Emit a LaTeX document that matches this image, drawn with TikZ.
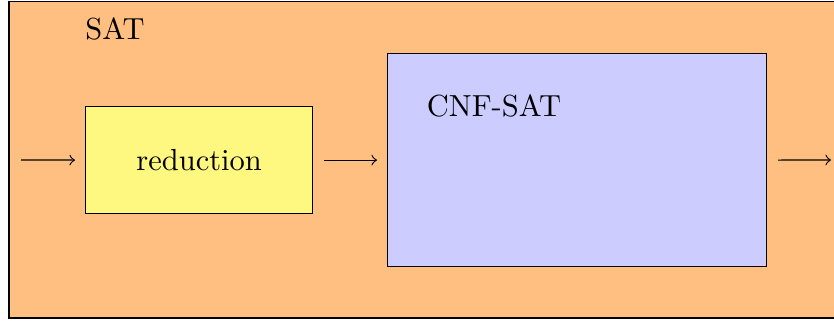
\documentclass[tikz,border=0pt]{standalone}
\begin{document}
\begin{tikzpicture}[x=0.328pt,y=-0.328pt,
  box/.style={draw=black, thin, inner sep=0pt, anchor=north west},
  lbl/.style={inner sep=0pt, font=\normalsize}]
\useasboundingbox (0,0) rectangle (834,320);
\fill[orange!50] (9,1.5) rectangle (850,318);
\draw[thin] (850,1.5) -- (9,1.5) -- (9,318) -- (850,318);
\node[box, fill=yellow!50, minimum width=227*0.328pt, minimum height=107*0.328pt] (red) at (85,106) {};
\node[box, fill=blue!20, minimum width=379*0.328pt, minimum height=213*0.328pt] (cnf) at (387,53) {};
\node[lbl] (sat) at (115,29) {SAT};
\node[lbl] (redt) at (red.center) {reduction};
\node[lbl] (cnft) at (494,106) {CNF-SAT};
\coordinate (in) at (21,160);
\coordinate (out) at (831,160);
\draw[->] (in) -- ([xshift=-10*0.328pt]red.west);
\draw[->] ([xshift=11*0.328pt]red.east) -- ([xshift=-10*0.328pt]red.east -| cnf.west);
\draw[->] ([xshift=11*0.328pt]cnf.east |- red.east) -- (out);
\end{tikzpicture}
\end{document}
